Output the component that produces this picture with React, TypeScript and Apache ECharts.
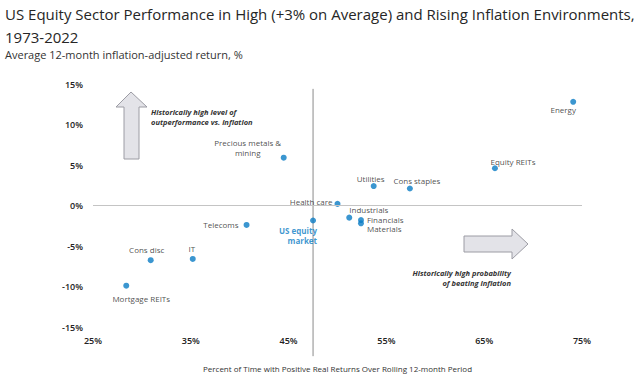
import React, { useEffect, useRef } from "react";
import * as echarts from "echarts";

const names = [
  "Energy",
  "Equity REITs",
  "Cons staples",
  "Utilities",
  "Health care",
  "Industrials",
  "Financials",
  "Materials",
  "US equity market",
  "Telecoms",
  "Precious metals & mining",
  "IT",
  "Cons disc",
  "Mortgage REITs",
];
const pctPositive = [74.1, 66.1, 57.4, 53.7, 50.0, 51.2, 52.4, 52.4, 47.5, 40.7, 44.5, 35.2, 30.9, 28.4];
const avgReturn = [12.8, 4.6, 2.1, 2.4, 0.2, -1.5, -1.8, -2.2, -1.85, -2.4, 5.9, -6.6, -6.75, -9.9];

const xTicks = [25, 35, 45, 55, 65, 75];
const yMin = -15;
const yMax = 15;
const marketLineExtent = [14.4, -18.6];

const labelText: Record<string, string> = {
  "US equity market": "US equity\nmarket",
  "Precious metals & mining": "Precious metals &\nmining",
};

const labelPlace: Record<string, { dx: number; dy: number; align?: string }> = {
  Energy: { dx: -10, dy: 8 },
  "Equity REITs": { dx: 18, dy: -7 },
  "Cons staples": { dx: 7, dy: -8 },
  Utilities: { dx: -3, dy: -8 },
  "Health care": { dx: -5, dy: -2, align: "right" },
  Industrials: { dx: 0, dy: -8, align: "left" },
  Financials: { dx: 6, dy: -1, align: "left" },
  Materials: { dx: 6, dy: 5.5, align: "left" },
  "US equity market": { dx: 4, dy: 15, align: "right" },
  Telecoms: { dx: -8, dy: 0, align: "right" },
  "Precious metals & mining": { dx: -36, dy: -10 },
  IT: { dx: -1, dy: -10.5 },
  "Cons disc": { dx: -4, dy: -11 },
  "Mortgage REITs": { dx: 15, dy: 13 },
};

const BLUE = "#0a7cc4";
const FONT = "'Open Sans', 'Noto Sans', sans-serif";

export default function App() {
  const ref = useRef<HTMLDivElement>(null);
  useEffect(() => {
    if (!ref.current) return;
    const chart = echarts.init(ref.current, null, { renderer: "svg" });
    const marketIdx = names.indexOf("US equity market");
    const marketX = pctPositive[marketIdx];

    const data = names.map((n, i) => {
      const p = labelPlace[n] || { dx: 0, dy: -8 };
      const isMarket = n === "US equity market";
      return {
        name: n,
        value: [pctPositive[i], avgReturn[i]],
        label: {
          show: true,
          position: "inside",
          formatter: labelText[n] || n,
          offset: [p.dx, p.dy],
          align: p.align || "center",
          verticalAlign: "middle",
          fontSize: 8,
          lineHeight: 10,
          fontFamily: FONT,
          color: isMarket ? BLUE : "#222",
          fontWeight: isMarket ? "bold" : "normal",
        },
      };
    });

    chart.setOption({
      animation: false,
      textStyle: { fontFamily: FONT },
      title: [
        {
          text: "US Equity Sector Performance in High (+3% on Average) and Rising Inflation Environments,\n1973-2022",
          left: 5,
          top: 2.5,
          padding: 0,
          textStyle: { fontSize: 15, lineHeight: 23, fontWeight: "normal", color: "#262626", fontFamily: FONT },
        },
        {
          text: "Average 12-month inflation-adjusted return, %",
          left: 5,
          top: 47,
          padding: 0,
          textStyle: { fontSize: 11, lineHeight: 14, fontWeight: "normal", color: "#333", fontFamily: FONT },
        },
      ],
      grid: { left: 93, right: 58, top: 84, bottom: 50, containLabel: false },
      xAxis: {
        type: "value",
        min: xTicks[0],
        max: xTicks[xTicks.length - 1],
        interval: 10,
        axisLine: { show: false },
        axisTick: { show: false },
        splitLine: { show: false },
        axisLabel: { formatter: "{value}%", fontSize: 9, color: "#222", fontWeight: 600, margin: 9, fontFamily: FONT },
        name: "Percent of Time with Positive Real Returns Over Rolling 12-month Period",
        nameLocation: "middle",
        nameGap: 37,
        nameTextStyle: { fontSize: 8, color: "#333", fontFamily: FONT },
      },
      yAxis: {
        type: "value",
        min: yMin,
        max: yMax,
        interval: 5,
        axisLine: { show: false },
        axisTick: { show: false },
        splitLine: { show: false },
        axisLabel: { formatter: "{value}%", fontSize: 9, color: "#222", fontWeight: 600, margin: 10, fontFamily: FONT },
      },
      series: [
        {
          type: "line",
          data: [
            [marketX, marketLineExtent[0]],
            [marketX, marketLineExtent[1]],
          ],
          clip: false,
          symbol: "none",
          silent: true,
          lineStyle: { color: "#8a8a8a", width: 1 },
          z: 1,
        },
        {
          type: "scatter",
          data,
          symbolSize: 6,
          itemStyle: { color: BLUE },
          z: 3,
          markLine: {
            silent: true,
            symbol: "none",
            label: { show: false },
            lineStyle: { color: "#c4c4c4", width: 1, type: "solid" },
            data: [{ yAxis: 0 }],
          },
        },
      ],
      graphic: [
        {
          type: "polygon",
          shape: {
            points: [
              [131, 92], [147, 107], [139, 107], [139, 159], [124, 159], [124, 107], [116, 107],
            ],
          },
          style: { fill: "#e3e3e8", stroke: "#9c9ca4", lineWidth: 1 },
        },
        {
          type: "polygon",
          shape: {
            points: [
              [464, 236], [512, 236], [512, 229], [528, 244], [512, 259], [512, 252], [464, 252],
            ],
          },
          style: { fill: "#e3e3e8", stroke: "#9c9ca4", lineWidth: 1 },
        },
        {
          type: "text",
          x: 151,
          y: 107.5,
          style: {
            text: "Historically high level of\noutperformance vs. inflation",
            fontSize: 7.5,
            lineHeight: 9.4,
            fontWeight: "bold",
            fontStyle: "italic",
            fill: "#333",
            fontFamily: FONT,
            align: "left",
            verticalAlign: "top",
          },
        },
        {
          type: "text",
          x: 511,
          y: 268.5,
          style: {
            text: "Historically high probability\nof beating inflation",
            fontSize: 7.5,
            lineHeight: 9.4,
            fontWeight: "bold",
            fontStyle: "italic",
            fill: "#333",
            fontFamily: FONT,
            align: "right",
            verticalAlign: "top",
          },
        },
      ],
    });
    return () => chart.dispose();
  }, []);
  return (
    <div
      ref={ref}
      style={{ position: "fixed", left: 0, top: 0, width: 640, height: 377, background: "#fff" }}
    />
  );
}
